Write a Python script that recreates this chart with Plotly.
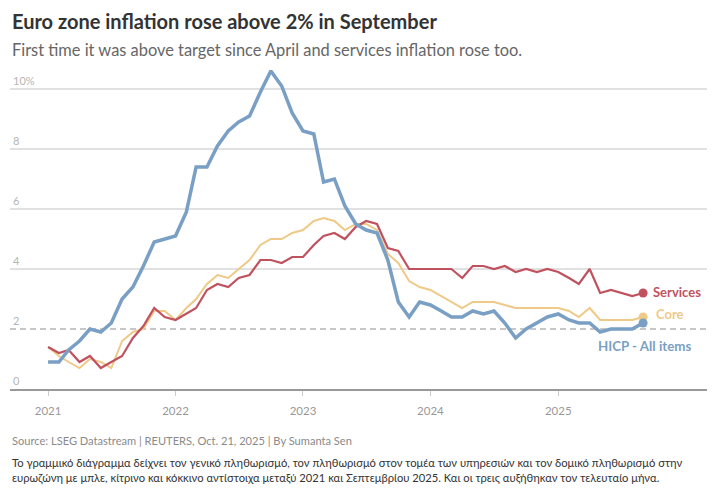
import pandas as pd
import plotly.graph_objects as go

months = pd.date_range("2021-01-01", periods=57, freq="MS")

hicp = [0.9, 0.9, 1.3, 1.6, 2.0, 1.9, 2.2, 3.0, 3.4, 4.1, 4.9, 5.0,
        5.1, 5.9, 7.4, 7.4, 8.1, 8.6, 8.9, 9.1, 9.9, 10.6, 10.1, 9.2,
        8.6, 8.5, 6.9, 7.0, 6.1, 5.5, 5.3, 5.2, 4.3, 2.9, 2.4, 2.9,
        2.8, 2.6, 2.4, 2.4, 2.6, 2.5, 2.6, 2.2, 1.7, 2.0, 2.2, 2.4,
        2.5, 2.3, 2.2, 2.2, 1.9, 2.0, 2.0, 2.0, 2.2]

core = [1.4, 1.1, 0.9, 0.7, 1.0, 0.9, 0.7, 1.6, 1.9, 2.0, 2.6, 2.6,
        2.3, 2.7, 3.0, 3.5, 3.8, 3.7, 4.0, 4.3, 4.8, 5.0, 5.0, 5.2,
        5.3, 5.6, 5.7, 5.6, 5.3, 5.5, 5.5, 5.3, 4.5, 4.2, 3.6, 3.4,
        3.3, 3.1, 2.9, 2.7, 2.9, 2.9, 2.9, 2.8, 2.7, 2.7, 2.7, 2.7,
        2.7, 2.6, 2.4, 2.7, 2.3, 2.3, 2.3, 2.3, 2.4]

services = [1.4, 1.2, 1.3, 0.9, 1.1, 0.7, 0.9, 1.1, 1.7, 2.1, 2.7, 2.4,
            2.3, 2.5, 2.7, 3.3, 3.5, 3.4, 3.7, 3.8, 4.3, 4.3, 4.2, 4.4,
            4.4, 4.8, 5.1, 5.2, 5.0, 5.4, 5.6, 5.5, 4.7, 4.6, 4.0, 4.0,
            4.0, 4.0, 4.0, 3.7, 4.1, 4.1, 4.0, 4.1, 3.9, 4.0, 3.9, 4.0,
            3.9, 3.7, 3.5, 4.0, 3.2, 3.3, 3.2, 3.1, 3.2]

year_ticks = ["2021-01-01", "2022-01-01", "2023-01-01", "2024-01-01", "2025-01-01"]
year_labels = ["2021", "2022", "2023", "2024", "2025"]
y_ticks = [0, 2, 4, 6, 8, 10]
y_labels = ["0", "2", "4", "6", "8", "10%"]

BLUE = "#7a9fc4"
RED = "#c0525f"
YELLOW = "#efc987"
FONT = "Lato"

fig = go.Figure()

series = [
    ("Core", core, YELLOW, 2.0),
    ("Services", services, RED, 2.2),
    ("HICP - All items", hicp, BLUE, 3.5),
]
for name, vals, color, w in series:
    fig.add_trace(go.Scatter(x=months, y=vals, mode="lines", name=name,
                             line=dict(color=color, width=w), hoverinfo="skip"))
    fig.add_trace(go.Scatter(x=[months[-1]], y=[vals[-1]], mode="markers",
                             marker=dict(color=color, size=9), hoverinfo="skip"))

# gridlines
for yv in [4, 6, 8, 10]:
    fig.add_shape(type="line", xref="paper", x0=0, x1=1, yref="y", y0=yv, y1=yv,
                  line=dict(color="#e1e1e1", width=2), layer="below")
fig.add_shape(type="line", xref="paper", x0=0, x1=1, yref="y", y0=2, y1=2,
              line=dict(color="#b5b5b5", width=1.5, dash="6px,4px"), layer="below")

# series labels
fig.add_annotation(x=months[-1], y=services[-1], text="<b>Services</b>", showarrow=False,
                   xanchor="left", xshift=8, yshift=1, font=dict(color=RED, size=13, family=FONT))
fig.add_annotation(x=months[-1], y=core[-1], text="<b>Core</b>", showarrow=False,
                   xanchor="left", xshift=11, yshift=3, font=dict(color=YELLOW, size=13, family=FONT))
fig.add_annotation(x=months[-1], y=hicp[-1], text="<b>HICP - All items</b>", showarrow=False,
                   xanchor="center", xshift=1, yshift=-23, font=dict(color=BLUE, size=13.3, family=FONT))

# title, subtitle, footer
fig.add_annotation(xref="paper", yref="paper", x=0, y=1, text="<b>Euro zone inflation rose above 2% in September</b>",
                   showarrow=False, xanchor="left", yanchor="bottom", yshift=35,
                   font=dict(size=20, color="#333333", family=FONT))
fig.add_annotation(xref="paper", yref="paper", x=0, y=1,
                   text="First time it was above target since April and services inflation rose too.",
                   showarrow=False, xanchor="left", yanchor="bottom", yshift=9,
                   font=dict(size=16.4, color="#666666", family=FONT))
fig.add_annotation(xref="paper", yref="paper", x=0, y=0,
                   text="Source: LSEG Datastream | REUTERS, Oct. 21, 2025 | By Sumanta Sen",
                   showarrow=False, xanchor="left", yanchor="top", yshift=-43,
                   font=dict(size=11.1, color="#8a8a8a", family=FONT))
fig.add_annotation(xref="paper", yref="paper", x=0, y=0,
                   text="Το γραμμικό διάγραμμα δείχνει τον γενικό πληθωρισμό, τον πληθωρισμό στον τομέα των υπηρεσιών και τον δομικό πληθωρισμό στην<br>"
                        "ευρωζώνη με μπλε, κίτρινο και κόκκινο αντίστοιχα μεταξύ 2021 και Σεπτεμβρίου 2025. Και οι τρεις αυξήθηκαν τον τελευταίο μήνα.",
                   showarrow=False, xanchor="left", yanchor="top", yshift=-65, align="left",
                   font=dict(size=11.2, color="#333333", family=FONT))

fig.update_layout(
    width=719, height=495,
    margin=dict(l=2, r=20, t=62, b=114),
    paper_bgcolor="white", plot_bgcolor="white",
    showlegend=False,
    font=dict(family=FONT),
    xaxis=dict(type="date", range=["2020-09-14", "2026-03-03"],
               tickvals=year_ticks, ticktext=year_labels,
               showgrid=False, zeroline=False,
               showline=True, linecolor="#999999", linewidth=2,
               ticks="outside", ticklen=5, tickcolor="#cccccc", tickwidth=1,
               ticklabelstandoff=5,
               tickfont=dict(size=11.5, color="#999999", family=FONT)),
    yaxis=dict(range=[0, 10.633], tickvals=y_ticks, ticktext=y_labels,
               showgrid=False, zeroline=False, showline=False,
               ticklabelposition="inside top", ticks="",
               tickfont=dict(size=11, color="#b5b5b5", family=FONT)),
)

fig.write_html("out.html")
